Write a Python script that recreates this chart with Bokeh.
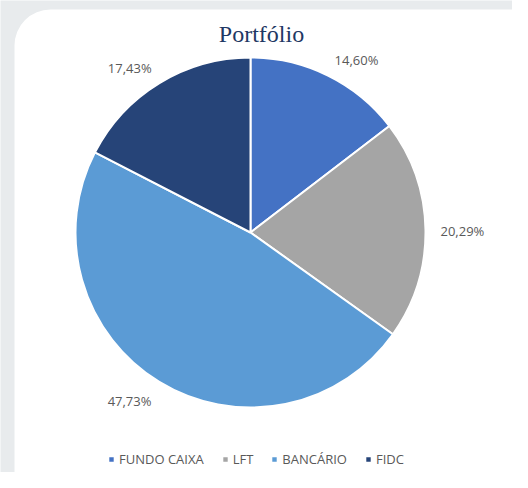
import numpy as np
from bokeh.plotting import figure
from bokeh.models import ColumnDataSource, Range1d, BoxAnnotation, Legend, LegendItem, Label
from bokeh.embed import file_html
from bokeh.resources import INLINE
from bokeh.core.properties import value

title = "Portfólio"
categories = ["FUNDO CAIXA", "LFT", "BANCÁRIO", "FIDC"]
shares = [14.60, 20.29, 47.73, 17.43]
labels = ["14,60%", "20,29%", "47,73%", "17,43%"]
colors = ["#4472C4", "#A5A5A5", "#5B9BD5", "#264478"]

W, H = 512, 472
CX, CY, R = 250, 240, 175
R_LABEL = 190

p = figure(width=W, height=H, x_range=Range1d(0, W), y_range=Range1d(0, H),
           output_backend="svg", toolbar_location=None, min_border=0)
p.axis.visible = False
p.grid.visible = False
p.outline_line_color = None
p.background_fill_color = "#e8ebed"
p.border_fill_color = "#e8ebed"

card = BoxAnnotation(left=14, right=548, top=463, bottom=-40, fill_color="white",
                     fill_alpha=1, line_color=None, border_radius=36, level="underlay")
p.add_layout(card)

frac = np.array(shares) / np.sum(shares)
cum = np.concatenate([[0], np.cumsum(frac)])
start = np.pi / 2 - cum[:-1] * 2 * np.pi
end = np.pi / 2 - cum[1:] * 2 * np.pi
mid = (start + end) / 2

src = ColumnDataSource(dict(cat=categories, start=start, end=end, color=colors))
r = p.wedge(x=CX, y=CY, radius=R, start_angle="start", end_angle="end", direction="clock",
            fill_color="color", line_color="white", line_width=2, source=src)

cs, sn = np.cos(mid), np.sin(mid)
lx = CX + R_LABEL * cs
ly = CY + R_LABEL * sn + np.where(np.abs(sn) > 0.3, 4 * np.sign(sn), 0) - 2
align = ["left" if c > 0.2 else ("right" if c < -0.2 else "center") for c in cs]
lsrc = ColumnDataSource(dict(x=lx, y=ly, text=labels, align=align))
p.text(x="x", y="y", text="text", text_align="align", text_baseline="middle",
       text_font=value("Open Sans"), text_font_size="13px", text_color="#595959", source=lsrc)

p.add_layout(Label(x=261, y=439, text=title, text_font="Liberation Serif", text_font_size="24px",
                   text_color="#1F3864", text_align="center", text_baseline="alphabetic"))

items = [LegendItem(label=c, renderers=[r], index=i) for i, c in enumerate(categories)]
legend = Legend(items=items, orientation="horizontal", location=(107, 4), glyph_width=8, glyph_height=8,
                label_standoff=4, spacing=17, padding=0, margin=0, border_line_color=None,
                background_fill_alpha=0, label_text_font="Open Sans", label_text_font_size="13px",
                label_text_color="#595959", label_height=14)
p.add_layout(legend, "center")

open("out.html", "w").write(file_html(p, INLINE))
